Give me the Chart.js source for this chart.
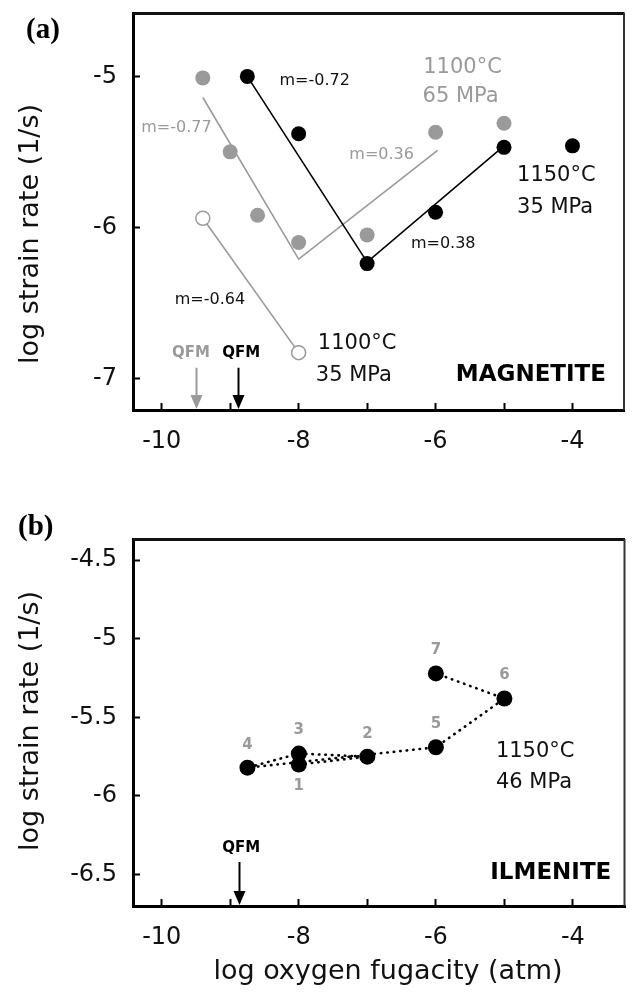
<!DOCTYPE html>
<html>
<head>
<meta charset="utf-8">
<script src="https://cdn.jsdelivr.net/npm/chart.js@4.4.1/dist/chart.umd.min.js"></script>
<style>
  html, body { margin: 0; padding: 0; background: #ffffff; }
  #wrap { position: relative; width: 633px; height: 992px; background: #fff; }
  #c1 { position: absolute; left: 0; top: 0; }
  #c2 { position: absolute; left: 0; top: 470px; }
</style>
</head>
<body>
<div id="wrap">
  <canvas id="c1" width="633" height="470"></canvas>
  <canvas id="c2" width="633" height="522"></canvas>
</div>
<script>
// ---------------- DATA ----------------
// Panel (a) magnetite
const magBlack1150_35_X = [-8.75, -8, -7, -6, -5, -4];
const magBlack1150_35_Y = [-5.00, -5.38, -6.24, -5.90, -5.47, -5.46];
const magGray1100_65_X = [-9.4, -9, -8.6, -8, -7, -6, -5];
const magGray1100_65_Y = [-5.01, -5.50, -5.92, -6.10, -6.05, -5.37, -5.31];
const magOpen1100_35_X = [-9.4, -8];
const magOpen1100_35_Y = [-5.94, -6.83];
// fitted lines (slopes m)
const magBlackFitX = [-8.75, -7, -5];
const magBlackFitY = [-5.00, -6.23, -5.46];
const magGrayFitX = [-9.4, -8, -5.97];
const magGrayFitY = [-5.14, -6.21, -5.49];
const magOpenFitX = [-9.4, -8];
const magOpenFitY = [-5.94, -6.83];
// Panel (b) ilmenite (experiment sequence 1..7)
const ilmLabels = ['1', '2', '3', '4', '5', '6', '7'];
const ilmX = [-8, -7, -8, -8.75, -6, -5, -6];
const ilmY = [-5.80, -5.75, -5.73, -5.82, -5.69, -5.38, -5.22];
const ilmLabelSide = ['below', 'above', 'above', 'above', 'above', 'above', 'above'];
// QFM buffer positions
const qfm1100 = -9.5;
const qfm1150 = -8.88;
// axes
const xMin = -10.42, xMax = -3.24;
const xTickLabels = ['-10', '-8', '-6', '-4'];
const yMinA = -7.21, yMaxA = -4.58;
const yMinB = -6.70, yMaxB = -4.365;

const BLACK = '#000000';
const GRAY = '#9a9a9a';
const FONT = '"DejaVu Sans", "Noto Sans", sans-serif';

function pts(xs, ys) { return xs.map((x, i) => ({ x: x, y: ys[i] })); }

// ---------------- PLUGIN ----------------
const annotPlugin = {
  id: 'annot',
  afterDatasetsDraw(chart, args, opts) {
    const ctx = chart.ctx;
    const xs = chart.scales.x, ys = chart.scales.y;
    const ca = chart.chartArea;
    ctx.save();
    // frame top and right
    ctx.strokeStyle = '#111';
    ctx.lineWidth = 3;
    ctx.beginPath();
    ctx.moveTo(ca.left, ca.top + 0.5);
    ctx.lineTo(ca.right, ca.top + 0.5);
    ctx.stroke();
    ctx.lineWidth = 2;
    ctx.strokeStyle = '#333';
    ctx.beginPath();
    ctx.moveTo(ca.right - 0.5, ca.top);
    ctx.lineTo(ca.right - 0.5, ca.bottom);
    ctx.stroke();

    (opts.items || []).forEach(it => {
      if (it.type === 'text') {
        ctx.font = it.font;
        ctx.fillStyle = it.color;
        ctx.textAlign = it.align || 'left';
        ctx.textBaseline = 'middle';
        ctx.fillText(it.text, xs.getPixelForValue(it.x), ys.getPixelForValue(it.y));
      } else if (it.type === 'arrow') {
        const px = Math.round(xs.getPixelForValue(it.x)) + 0.5;
        const top = ys.getPixelForValue(it.y);
        const bot = ca.bottom - 1;
        ctx.strokeStyle = it.color;
        ctx.fillStyle = it.color;
        ctx.lineWidth = 2;
        ctx.beginPath();
        ctx.moveTo(px, top);
        ctx.lineTo(px, bot - 10);
        ctx.stroke();
        ctx.beginPath();
        ctx.moveTo(px - 6, bot - 14);
        ctx.lineTo(px + 6, bot - 14);
        ctx.lineTo(px, bot);
        ctx.closePath();
        ctx.fill();
      } else if (it.type === 'pointLabels') {
        const meta = chart.getDatasetMeta(it.dataset);
        ctx.font = it.font;
        ctx.fillStyle = it.color;
        ctx.textAlign = 'center';
        ctx.textBaseline = 'middle';
        meta.data.forEach((el, i) => {
          const dy = it.sides[i] === 'below' ? 22 : -23;
          ctx.fillText(it.labels[i], el.x, el.y + dy);
        });
      }
    });
    // y axis title
    if (opts.yTitle) {
      ctx.save();
      ctx.translate(opts.yTitle.x, opts.yTitle.y);
      ctx.rotate(-Math.PI / 2);
      ctx.font = '27px ' + FONT;
      ctx.fillStyle = '#111';
      ctx.textAlign = 'center';
      ctx.textBaseline = 'middle';
      ctx.fillText(opts.yTitle.text, 0, 0);
      ctx.restore();
    }
    if (opts.xTitle) {
      ctx.font = '27px ' + FONT;
      ctx.fillStyle = '#111';
      ctx.textAlign = 'center';
      ctx.textBaseline = 'middle';
      ctx.fillText(opts.xTitle.text, opts.xTitle.x, opts.xTitle.y);
    }
    if (opts.panel) {
      ctx.font = 'bold 29px "Liberation Serif", "DejaVu Serif", serif';
      ctx.fillStyle = '#000';
      ctx.textAlign = 'left';
      ctx.textBaseline = 'middle';
      ctx.fillText(opts.panel.text, opts.panel.x, opts.panel.y);
    }
    ctx.restore();
  }
};

function zeroPad(s) { s.paddingTop = 0; s.paddingBottom = 0; s.paddingLeft = 0; s.paddingRight = 0; }

function makeScales(yMin, yMax, yStep, xHeight, yLabelFmt) {
  return {
    x: {
      type: 'linear', min: xMin, max: xMax,
      afterFit: s => { s.height = xHeight; zeroPad(s); },
      border: { display: true, color: '#000', width: 3 },
      grid: { drawOnChartArea: false, drawTicks: true, tickLength: -7, tickWidth: 2, color: '#000' },
      ticks: {
        stepSize: 1, includeBounds: false, padding: 24, color: '#111',
        font: { family: FONT, size: 24 },
        maxRotation: 0, autoSkip: false,
        callback: v => { const s = String(Math.round(v)); return xTickLabels.includes(s) && Math.abs(v - Math.round(v)) < 1e-6 ? s : ''; }
      }
    },
    y: {
      type: 'linear', min: yMin, max: yMax,
      afterFit: s => { s.width = 133; zeroPad(s); },
      border: { display: true, color: '#000', width: 3 },
      grid: { drawOnChartArea: false, drawTicks: true, tickLength: -7, tickWidth: 2, color: '#000' },
      ticks: {
        stepSize: yStep, includeBounds: false, padding: 23, color: '#111',
        font: { family: FONT, size: 24 },
        callback: yLabelFmt
      }
    }
  };
}

const common = {
  responsive: false, animation: false, devicePixelRatio: 1,
  plugins: { legend: { display: false }, tooltip: { enabled: false } }
};

// ---------------- CHART (a) ----------------
new Chart(document.getElementById('c1'), {
  type: 'scatter',
  data: {
    datasets: [
      { data: pts(magBlack1150_35_X, magBlack1150_35_Y), backgroundColor: BLACK, borderColor: BLACK, pointRadius: 7.5, borderWidth: 0 },
      { data: pts(magGray1100_65_X, magGray1100_65_Y), backgroundColor: GRAY, borderColor: GRAY, pointRadius: 7.5, borderWidth: 0 },
      { data: pts(magOpen1100_35_X, magOpen1100_35_Y), backgroundColor: '#ffffff', borderColor: GRAY, pointRadius: 7, borderWidth: 1.5 },
      { data: pts(magBlackFitX, magBlackFitY), showLine: true, borderColor: BLACK, borderWidth: 1.6, pointRadius: 0 },
      { data: pts(magGrayFitX, magGrayFitY), showLine: true, borderColor: GRAY, borderWidth: 1.6, pointRadius: 0 },
      { data: pts(magOpenFitX, magOpenFitY), showLine: true, borderColor: GRAY, borderWidth: 1.6, pointRadius: 0 }
    ]
  },
  options: Object.assign({}, common, {
    layout: { padding: { top: 13, right: 1, left: 0, bottom: 0 } },
    scales: makeScales(yMinA, yMaxA, 1, 60, v => String(Math.round(v))),
    plugins: Object.assign({}, common.plugins, {
      annot: {
        yTitle: { text: 'log strain rate (1/s)', x: 31, y: 234 },
        panel: { text: '(a)', x: 26, y: 31 },
        items: [
          { type: 'text', text: 'm=-0.72', x: -8.28, y: -5.03, color: '#111', font: '16px ' + FONT },
          { type: 'text', text: 'm=-0.77', x: -10.30, y: -5.34, color: GRAY, font: '16px ' + FONT },
          { type: 'text', text: 'm=0.36', x: -7.26, y: -5.52, color: GRAY, font: '16px ' + FONT },
          { type: 'text', text: 'm=0.38', x: -6.36, y: -6.11, color: '#111', font: '16px ' + FONT },
          { type: 'text', text: 'm=-0.64', x: -9.81, y: -6.48, color: '#111', font: '16px ' + FONT },
          { type: 'text', text: '1100°C', x: -6.18, y: -4.94, color: GRAY, font: '21px ' + FONT },
          { type: 'text', text: '65 MPa', x: -6.19, y: -5.135, color: GRAY, font: '21px ' + FONT },
          { type: 'text', text: '1150°C', x: -4.81, y: -5.66, color: '#111', font: '21px ' + FONT },
          { type: 'text', text: '35 MPa', x: -4.81, y: -5.87, color: '#111', font: '21px ' + FONT },
          { type: 'text', text: '1100°C', x: -7.72, y: -6.77, color: '#111', font: '21px ' + FONT },
          { type: 'text', text: '35 MPa', x: -7.75, y: -6.98, color: '#111', font: '21px ' + FONT },
          { type: 'text', text: 'MAGNETITE', x: -3.51, y: -6.98, color: '#000', font: 'bold 23px ' + FONT, align: 'right' },
          { type: 'text', text: 'QFM', x: -9.575, y: -6.83, color: GRAY, font: 'bold 15px ' + FONT, align: 'center' },
          { type: 'text', text: 'QFM', x: -8.84, y: -6.83, color: '#000', font: 'bold 15px ' + FONT, align: 'center' },
          { type: 'arrow', x: qfm1100, y: -6.93, color: GRAY },
          { type: 'arrow', x: qfm1150, y: -6.93, color: '#000' }
        ]
      }
    })
  }),
  plugins: [annotPlugin]
});

// ---------------- CHART (b) ----------------
new Chart(document.getElementById('c2'), {
  type: 'scatter',
  data: {
    datasets: [
      { data: pts(ilmX, ilmY), showLine: true, backgroundColor: BLACK, borderColor: BLACK,
        pointRadius: 8, pointBorderWidth: 0, borderWidth: 2.6, borderDash: [0.5, 6], borderCapStyle: 'round' }
    ]
  },
  options: Object.assign({}, common, {
    layout: { padding: { top: 69, right: 1, left: 0, bottom: 0 } },
    scales: makeScales(yMinB, yMaxB, 0.5, 86, v => String(Math.round(v * 10) / 10)),
    plugins: Object.assign({}, common.plugins, {
      annot: {
        yTitle: { text: 'log strain rate (1/s)', x: 31, y: 251 },
        xTitle: { text: 'log oxygen fugacity (atm)', x: 388, y: 502 },
        panel: { text: '(b)', x: 18, y: 58 },
        items: [
          { type: 'pointLabels', dataset: 0, labels: ilmLabels, sides: ilmLabelSide, color: GRAY, font: 'bold 15px ' + FONT },
          { type: 'text', text: '1150°C', x: -5.124, y: -5.72, color: '#111', font: '21px ' + FONT },
          { type: 'text', text: '46 MPa', x: -5.124, y: -5.914, color: '#111', font: '21px ' + FONT },
          { type: 'text', text: 'ILMENITE', x: -3.44, y: -6.49, color: '#000', font: 'bold 23px ' + FONT, align: 'right' },
          { type: 'text', text: 'QFM', x: -8.84, y: -6.33, color: '#000', font: 'bold 15px ' + FONT, align: 'center' },
          { type: 'arrow', x: qfm1150, y: -6.42, color: '#000' }
        ]
      }
    })
  }),
  plugins: [annotPlugin]
});
</script>
</body>
</html>
